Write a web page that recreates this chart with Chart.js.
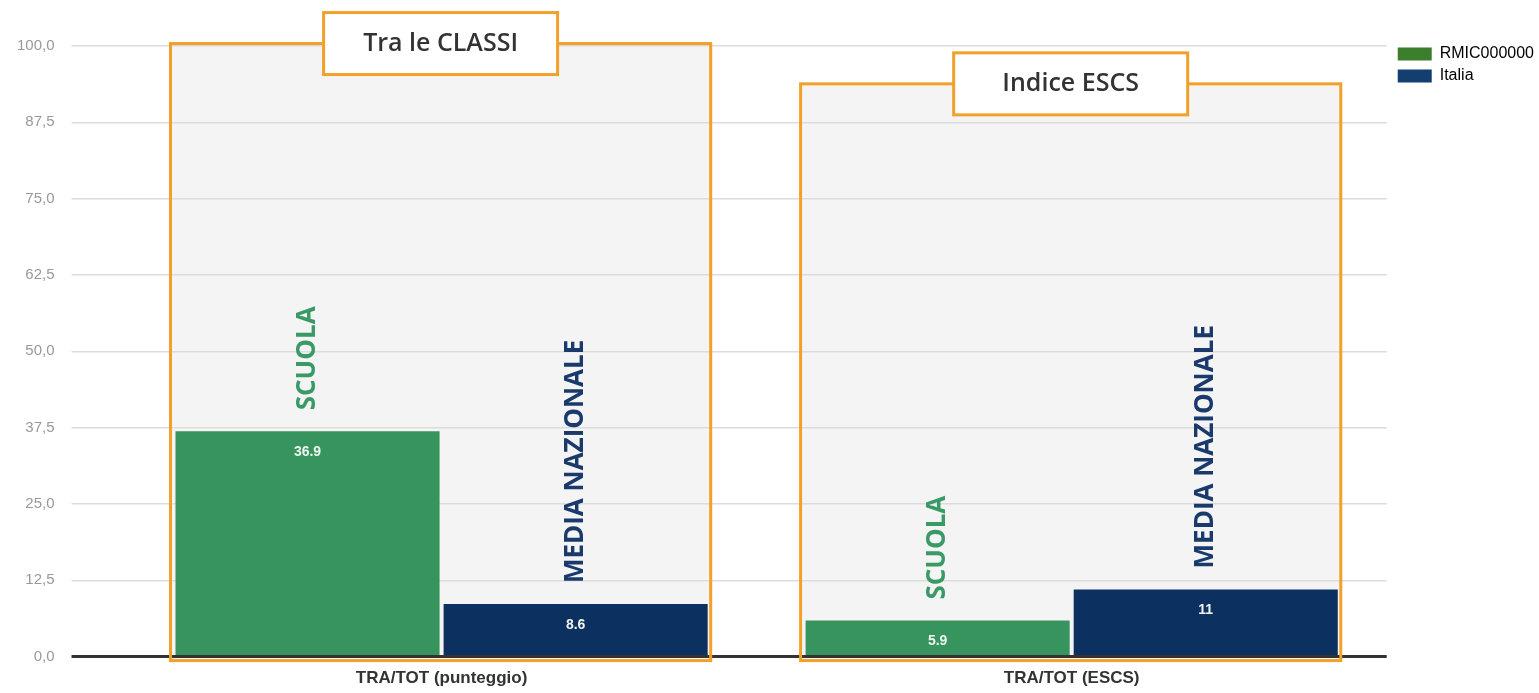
<!DOCTYPE html>
<html>
<head>
<meta charset="utf-8">
<script src="https://cdn.jsdelivr.net/npm/chart.js@4.4.1/dist/chart.umd.min.js"></script>
<style>
  html, body { margin: 0; padding: 0; background: #fff; }
  #wrap { width: 1539px; height: 693px; position: relative; }
</style>
</head>
<body>
<div id="wrap"><canvas id="chart"></canvas></div>
<script>
const categories = ['TRA/TOT (punteggio)', 'TRA/TOT (ESCS)'];
const scuola = [36.9, 5.9];
const italia = [8.6, 11];
const seriesNames = ['RMIC000000', 'Italia'];
const groupTitles = ['Tra le CLASSI', 'Indice ESCS'];
const groupTops = [100.4, 93.8];
const barTags = ['SCUOLA', 'MEDIA NAZIONALE'];

const GREEN = '#37945f';
const NAVY = '#0c305f';
const ORANGE = '#f3a02a';

function frameOf(chart, i) {
  const a = chart.getDatasetMeta(0).data[i], b = chart.getDatasetMeta(1).data[i];
  const y = chart.scales.y;
  return {
    left: a.x - a.width / 2 - 5,
    right: b.x + b.width / 2 + 3,
    top: y.getPixelForValue(groupTops[i]),
    bottom: y.getPixelForValue(0) + 4,
  };
}

const groupPlugin = {
  id: 'groupBoxes',
  afterLayout(chart) {
    // nudge the legend up/right a little, like the original
    if (chart.legend) {
      chart.legend.top -= 6;
      chart.legend.left += 5;
    }
  },
  beforeDraw(chart) {
    const { ctx } = chart;
    ctx.save();
    ctx.fillStyle = '#f4f4f4';
    categories.forEach((c, i) => {
      const f = frameOf(chart, i);
      ctx.fillRect(f.left, f.top, f.right - f.left, f.bottom - f.top);
    });
    ctx.restore();
  },
  afterDatasetsDraw(chart) {
    const { ctx } = chart;
    const metas = [chart.getDatasetMeta(0), chart.getDatasetMeta(1)];
    ctx.save();
    // orange frames + titles
    categories.forEach((c, i) => {
      const f = frameOf(chart, i);
      ctx.strokeStyle = ORANGE;
      ctx.lineWidth = 3;
      ctx.strokeRect(f.left, f.top, f.right - f.left, f.bottom - f.top);
      const cx = (f.left + f.right) / 2;
      const w = 234, h = 62;
      ctx.fillStyle = '#fff';
      ctx.fillRect(cx - w / 2, f.top - h / 2, w, h);
      ctx.strokeRect(cx - w / 2, f.top - h / 2, w, h);
      ctx.fillStyle = '#333';
      ctx.font = '600 25px "Open Sans"';
      ctx.textAlign = 'center';
      ctx.textBaseline = 'middle';
      ctx.fillText(groupTitles[i], cx, f.top);
    });
    // vertical tags and values
    metas.forEach((meta, d) => {
      meta.data.forEach((bar, i) => {
        ctx.save();
        ctx.translate(bar.x, bar.y - 21);
        ctx.rotate(-Math.PI / 2);
        ctx.fillStyle = d === 0 ? '#3a9a66' : '#1b3a6c';
        ctx.font = 'bold 26px "Open Sans"';
        ctx.textAlign = 'left';
        ctx.textBaseline = 'middle';
        ctx.fillText(barTags[d], 0, 0);
        ctx.restore();
        ctx.fillStyle = '#eef5f0';
        ctx.font = 'bold 14px "Liberation Sans"';
        ctx.textAlign = 'center';
        ctx.textBaseline = 'middle';
        const v = chart.data.datasets[d].data[i];
        ctx.fillText(String(v), bar.x, bar.y + 21);
      });
    });
    ctx.restore();
  }
};

new Chart(document.getElementById('chart'), {
  type: 'bar',
  data: {
    labels: categories,
    datasets: [
      { label: seriesNames[0], data: scuola, backgroundColor: GREEN, categoryPercentage: 0.851, barPercentage: 0.985 },
      { label: seriesNames[1], data: italia, backgroundColor: NAVY, categoryPercentage: 0.851, barPercentage: 0.985 },
    ],
  },
  options: {
    responsive: true,
    maintainAspectRatio: false,
    animation: false,
    layout: { padding: { top: 46, right: 0, left: 0, bottom: 0 } },
    scales: {
      x: {
        grid: { display: false },
        border: { display: false },
        ticks: { color: '#333', font: { family: 'Liberation Sans', size: 17, weight: 'bold' }, padding: 4 },
      },
      y: {
        min: 0,
        max: 100,
        border: { display: false },
        grid: {
          color: ctx => ctx.tick && ctx.tick.value === 0 ? '#333' : '#dcdcdc',
          lineWidth: ctx => ctx.tick && ctx.tick.value === 0 ? 3 : 1.5,
          tickLength: 55,
        },
        ticks: {
          stepSize: 12.5,
          color: '#999',
          padding: 17,
          font: { family: 'Liberation Sans', size: 15 },
          callback: v => v.toFixed(1).replace('.', ','),
        },
      },
    },
    plugins: {
      tooltip: { enabled: false },
      legend: {
        position: 'right',
        align: 'start',
        labels: {
          boxWidth: 34,
          boxHeight: 13,
          padding: 6,
          color: '#aaa',
          font: { family: 'Liberation Sans', size: 16 },
          generateLabels: () => [
            { text: seriesNames[0], fillStyle: '#3b7f2d', strokeStyle: '#3b7f2d', lineWidth: 0, datasetIndex: 0 },
            { text: seriesNames[1], fillStyle: '#123f70', strokeStyle: '#123f70', lineWidth: 0, datasetIndex: 1 },
          ],
        },
      },
    },
  },
  plugins: [groupPlugin],
});
</script>
</body>
</html>
